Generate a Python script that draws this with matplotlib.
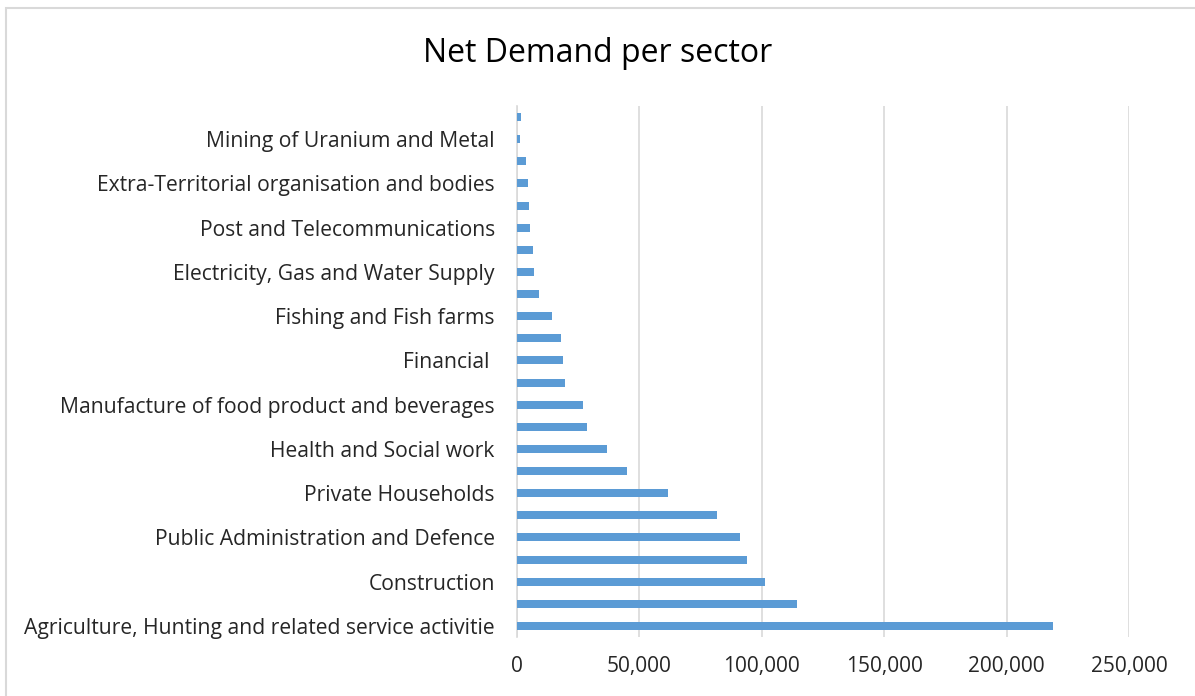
import matplotlib
matplotlib.use("Agg")
import matplotlib.pyplot as plt
from matplotlib.patches import Rectangle
from matplotlib.ticker import FuncFormatter

# Values from bottom bar to top bar
values = [218800, 114300, 101400, 94000, 90900, 81500, 61500, 44800,
          36900, 28500, 26800, 19500, 18800, 17800, 14400, 9100,
          6900, 6400, 5400, 5000, 4400, 3800, 1400, 1600]
# Only every other category label is shown on the axis (bottom to top)
visible_labels = ["Agriculture, Hunting and related service activitie",
                  "Construction",
                  "Public Administration and Defence",
                  "Private Households",
                  "Health and Social work",
                  "Manufacture of food product and beverages",
                  "Financial ",
                  "Fishing and Fish farms",
                  "Electricity, Gas and Water Supply",
                  "Post and Telecommunications",
                  "Extra-Territorial organisation and bodies",
                  "Mining of Uranium and Metal"]
xticks = [0, 50000, 100000, 150000, 200000, 250000]
title = "Net Demand per sector"

plt.rcParams['font.family'] = ['Open Sans', 'DejaVu Sans']

fig = plt.figure(figsize=(11.95, 6.96), dpi=100)
ax = fig.add_axes([517/1195, 1-637/696, (1129-517)/1195, (637-106)/696])

pos = list(range(len(values)))
ax.barh(pos, values, height=0.36, color="#5B9BD5", zorder=3)
ax.set_ylim(-0.5, len(values)-0.5)
ax.set_xlim(0, 250000)

ax.set_yticks(pos[::2])
ax.set_yticklabels(visible_labels, fontsize=15.2, color="#262626")
ax.set_xticks(xticks)
ax.xaxis.set_major_formatter(FuncFormatter(lambda v, p: f"{int(v):,}"))
ax.tick_params(axis='x', labelsize=15, labelcolor="#262626", length=0, pad=14)
ax.tick_params(axis='y', length=0, pad=16)

ax.grid(axis='x', color="#D9D9D9", linewidth=1.2, zorder=0)
for s in ['top', 'right', 'bottom']:
    ax.spines[s].set_visible(False)
ax.spines['left'].set_color("#D9D9D9")
ax.spines['left'].set_linewidth(1.2)

fig.text(0.5, 1-54/696, title, ha='center', va='center', fontsize=23, color="#000000")

fig.patches.append(Rectangle((6/1195, -0.01), 1.1, 1-8/696+0.01, transform=fig.transFigure,
                             fill=False, edgecolor="#D9D9D9", linewidth=1.5))

fig.savefig("out.png", dpi=100, facecolor="white")
